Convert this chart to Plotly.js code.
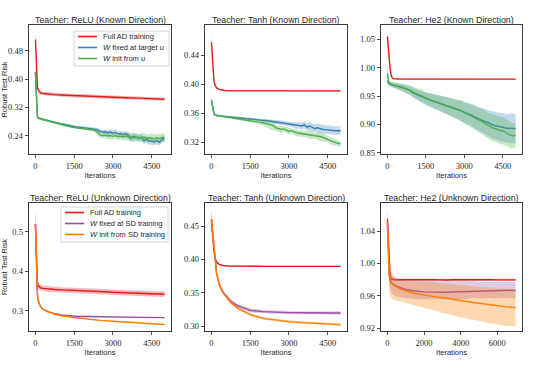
<!DOCTYPE html>
<html><head><meta charset="utf-8">
<script src="https://cdn.plot.ly/plotly-3.0.1.min.js"></script>
<style>html,body{margin:0;padding:0;background:#fff}#chart{width:538px;height:369px}</style>
</head><body><div id="chart"></div>
<script>
// ---------------- DATA ----------------
const panelTitles = ['Teacher: ReLU (Known Direction)','Teacher: Tanh (Known Direction)','Teacher: He2 (Known Direction)',
  'Teacher: ReLU (Unknown Direction)','Teacher: Tanh (Unknown Direction)','Teacher: He2 (Unknown Direction)'];
const legendKnown = ['Full AD training','<i>W</i> fixed at target <i>u</i>','<i>W</i> init from <i>u</i>'];
const legendUnknown = ['Full AD training','<i>W</i> fixed at SD training','<i>W</i> init from SD training'];
const xTicks5000 = [0,1500,3000,4500];
const xTicks7000 = [0,2000,4000,6000];
const yTicks1 = [0.24,0.32,0.40,0.48];
const yTicks2 = [0.32,0.36,0.40,0.44];
const yTicks3 = [0.85,0.90,0.95,1.00,1.05];
const yTicks4 = [0.3,0.4,0.5];
const yTicks5 = [0.30,0.35,0.40,0.45];
const yTicks6 = [0.92,0.96,1.00,1.04];

const xCoarse = [0,25,50,75,100,150,200,300,400,500,750,1000,1500,2000,2500,3000,3500,4000,4500,5000];
const xFine = [0,25,50,75,100,150,200,300,400,500,600,700,800,900,1000,1100,1200,1300,1400,1500,1600,1700,1800,1900,2000,2100,2200,2300,2400,2500,2600,2700,2800,2900,3000,3100,3200,3300,3400,3500,3600,3700,3800,3900,4000,4100,4200,4300,4400,4500,4600,4700,4800,4900,5000];
const xLong = [0,25,50,75,100,150,200,300,400,500,750,1000,1250,1500,1750,2000,2250,2500,2750,3000,3250,3500,3750,4000,4250,4500,4750,5000,5250,5500,5750,6000,6250,6500,6750,7000];

// Panel 1: ReLU known
const p1RedMean = [0.512,0.455,0.400,0.378,0.370,0.364,0.361,0.359,0.358,0.357,0.356,0.355,0.353,0.351,0.350,0.348,0.347,0.346,0.344,0.343];
const p1RedSd = [0.020,0.012,0.008,0.007,0.006,0.006,0.005,0.005,0.005,0.005,0.005,0.005,0.005,0.005,0.005,0.005,0.005,0.005,0.004,0.004];
const p1BlueMean = [0.418,0.360,0.312,0.295,0.291,0.289,0.288,0.286,0.284,0.281,
 0.280,0.278,0.276,0.275,0.273,0.272,0.270,0.268,0.267,0.265,
 0.264,0.264,0.263,0.262,0.262,0.261,0.260,0.259,0.257,0.252,
 0.250,0.251,0.248,0.250,0.247,0.249,0.245,0.246,0.243,0.245,
 0.240,0.232,0.238,0.235,0.233,0.236,0.226,0.230,0.224,0.225,
 0.222,0.226,0.221,0.229,0.231];
const p1BlueSd = [0.010,0.006,0.004,0.003,0.003,0.003,0.003,0.003,0.003,0.003,
 0.003,0.003,0.003,0.003,0.003,0.003,0.003,0.003,0.003,0.003,
 0.003,0.003,0.003,0.003,0.003,0.003,0.004,0.004,0.005,0.006,
 0.006,0.007,0.008,0.007,0.008,0.009,0.007,0.008,0.009,0.008,
 0.010,0.011,0.009,0.010,0.009,0.011,0.010,0.009,0.011,0.010,
 0.009,0.011,0.010,0.009,0.010];
const p1GreenMean = [0.420,0.362,0.312,0.294,0.290,0.288,0.287,0.285,0.283,0.280,
 0.278,0.277,0.275,0.273,0.271,0.269,0.268,0.266,0.264,0.263,
 0.262,0.261,0.260,0.260,0.259,0.258,0.257,0.255,0.250,0.242,
 0.240,0.241,0.239,0.240,0.238,0.240,0.237,0.238,0.236,0.238,
 0.236,0.237,0.234,0.236,0.235,0.233,0.236,0.232,0.234,0.233,
 0.231,0.234,0.232,0.234,0.233];
const p1GreenSd = [0.012,0.006,0.004,0.003,0.003,0.003,0.003,0.003,0.003,0.003,
 0.003,0.003,0.003,0.003,0.003,0.003,0.003,0.003,0.003,0.003,
 0.003,0.003,0.003,0.004,0.004,0.004,0.004,0.005,0.007,0.008,
 0.007,0.009,0.008,0.010,0.009,0.008,0.011,0.009,0.010,0.012,
 0.010,0.011,0.013,0.010,0.012,0.011,0.013,0.012,0.010,0.013,
 0.012,0.011,0.013,0.012,0.011];

// Panel 2: Tanh known
const p2RedMean = [0.458,0.440,0.422,0.411,0.404,0.398,0.395,0.393,0.392,0.3915,0.391,0.391,0.391,0.391,0.391,0.391,0.391,0.391,0.391,0.391];
const p2RedSd = [0.012,0.006,0.003,0.002,0.0015,0.001,0.001,0.001,0.001,0.001,0.001,0.001,0.001,0.001,0.001,0.001,0.001,0.001,0.001,0.001];
const p2BlueMean = [0.378,0.372,0.365,0.361,0.359,0.358,0.357,0.3565,0.356,0.3555,
 0.355,0.3548,0.3545,0.354,0.3537,0.3535,0.3533,0.353,0.3527,0.3525,
 0.352,0.3518,0.3512,0.351,0.3505,0.350,0.3495,0.349,0.3485,0.348,
 0.3475,0.347,0.3465,0.346,0.345,0.3445,0.344,0.343,0.3435,0.3425,
 0.344,0.341,0.3425,0.3405,0.339,0.340,0.3385,0.338,0.3375,0.337,
 0.3368,0.3365,0.336,0.3362,0.336];
const p2BlueSd = [0.004,0.003,0.002,0.0015,0.0015,0.0015,0.0015,0.0015,0.0015,0.0015,
 0.0015,0.0015,0.0015,0.0015,0.0015,0.0015,0.0015,0.0015,0.0015,0.0015,
 0.0015,0.0015,0.0015,0.002,0.002,0.002,0.002,0.002,0.0025,0.0025,
 0.003,0.003,0.003,0.0035,0.0035,0.004,0.004,0.0045,0.0045,0.005,
 0.005,0.005,0.0055,0.0055,0.0055,0.006,0.006,0.006,0.006,0.006,
 0.006,0.006,0.006,0.006,0.006];
const p2GreenMean = [0.379,0.372,0.365,0.361,0.359,0.358,0.357,0.3565,0.356,0.355,
 0.3545,0.354,0.3535,0.353,0.3525,0.352,0.3515,0.351,0.3505,0.350,
 0.3495,0.349,0.348,0.3475,0.347,0.346,0.345,0.344,0.343,0.340,
 0.339,0.338,0.3385,0.337,0.335,0.336,0.334,0.333,0.3325,0.332,
 0.3315,0.331,0.331,0.330,0.329,0.3285,0.328,0.327,0.3255,0.324,
 0.322,0.321,0.3195,0.3188,0.318];
const p2GreenSd = [0.004,0.003,0.002,0.0015,0.0015,0.0015,0.0015,0.0015,0.0015,0.0015,
 0.0015,0.0015,0.0015,0.0015,0.0015,0.0015,0.002,0.002,0.002,0.002,
 0.002,0.0025,0.0025,0.003,0.004,0.006,0.005,0.007,0.006,0.004,
 0.004,0.005,0.004,0.004,0.005,0.004,0.004,0.005,0.004,0.004,
 0.005,0.004,0.006,0.005,0.004,0.005,0.006,0.005,0.005,0.004,
 0.005,0.004,0.004,0.004,0.004];

// Panel 3: He2 known
const p3RedMean = [1.055,1.045,1.030,1.015,1.000,0.986,0.981,0.980,0.9798,0.9798,0.9798,0.9797,0.9798,0.9797,0.9798,0.9797,0.9805,0.9797,0.9798,0.9798];
const p3RedSd = [0.010,0.008,0.006,0.004,0.003,0.002,0.001,0.001,0.001,0.001,0.001,0.001,0.001,0.001,0.001,0.001,0.001,0.001,0.001,0.001];
const p3BlueMean = [0.976,0.974,0.973,0.972,0.971,0.970,0.969,0.968,0.967,0.966,
 0.9645,0.963,0.9615,0.9595,0.9555,0.9535,0.951,0.9495,0.947,0.945,
 0.9435,0.942,0.9405,0.939,0.938,0.9365,0.935,0.933,0.9315,0.930,
 0.928,0.9265,0.925,0.9235,0.921,0.9195,0.918,0.916,0.9135,0.911,
 0.909,0.907,0.905,0.9035,0.901,0.8995,0.898,0.897,0.8955,0.895,
 0.8945,0.893,0.8935,0.8925,0.8925];
const p3BlueSd = [0.012,0.005,0.004,0.004,0.004,0.004,0.005,0.005,0.005,0.006,
 0.006,0.007,0.007,0.008,0.008,0.009,0.009,0.010,0.010,0.011,
 0.011,0.012,0.012,0.013,0.013,0.014,0.014,0.015,0.015,0.016,
 0.016,0.017,0.017,0.018,0.018,0.019,0.019,0.020,0.020,0.021,
 0.021,0.022,0.022,0.023,0.023,0.024,0.024,0.024,0.025,0.025,
 0.025,0.025,0.026,0.026,0.026];
const p3GreenMean = [0.990,0.980,0.975,0.973,0.972,0.971,0.970,0.969,0.967,0.966,
 0.965,0.963,0.962,0.960,0.957,0.955,0.953,0.951,0.949,0.946,
 0.944,0.943,0.941,0.940,0.938,0.937,0.935,0.933,0.932,0.930,
 0.929,0.927,0.926,0.924,0.921,0.919,0.917,0.914,0.912,0.909,
 0.907,0.905,0.902,0.899,0.896,0.894,0.893,0.891,0.889,0.889,
 0.886,0.884,0.881,0.880,0.881];
const p3GreenSd = [0.020,0.008,0.005,0.004,0.004,0.004,0.005,0.005,0.005,0.006,
 0.007,0.007,0.008,0.008,0.009,0.009,0.010,0.011,0.010,0.011,
 0.012,0.012,0.013,0.013,0.014,0.014,0.015,0.015,0.016,0.016,
 0.017,0.017,0.018,0.018,0.019,0.019,0.020,0.020,0.021,0.021,
 0.022,0.022,0.023,0.022,0.023,0.023,0.024,0.023,0.024,0.024,
 0.024,0.023,0.023,0.022,0.022];

// Panel 4: ReLU unknown
const p4RedMean = [0.520,0.450,0.392,0.372,0.364,0.360,0.358,0.357,0.356,0.355,0.354,0.353,0.352,0.350,0.349,0.347,0.346,0.345,0.343,0.342];
const p4RedSd = [0.035,0.020,0.012,0.009,0.008,0.007,0.007,0.007,0.007,0.007,0.007,0.007,0.007,0.007,0.007,0.007,0.007,0.007,0.007,0.007];
const p4PurpleMean = [0.520,0.440,0.370,0.342,0.328,0.316,0.310,0.304,0.300,0.2975,0.2925,0.2895,0.2865,0.2855,0.285,0.2845,0.284,0.2835,0.283,0.2828];
const p4PurpleSd = [0.035,0.020,0.010,0.006,0.004,0.003,0.002,0.002,0.002,0.002,0.002,0.0015,0.0015,0.0015,0.0015,0.0015,0.0015,0.0015,0.0015,0.0015];
const p4OrangeMean = [0.520,0.440,0.370,0.342,0.328,0.316,0.310,0.304,0.300,0.2975,0.292,0.2875,0.2830,0.2790,0.2760,0.2735,0.2712,0.2690,0.2672,0.2655];
const p4OrangeSd = [0.035,0.020,0.010,0.006,0.004,0.003,0.002,0.002,0.002,0.002,0.002,0.0015,0.0015,0.0015,0.0015,0.0015,0.0015,0.0015,0.0015,0.0015];

// Panel 5: Tanh unknown
const p5RedMean = [0.460,0.446,0.432,0.420,0.411,0.401,0.396,0.3925,0.391,0.3903,0.3898,0.3896,0.3895,0.3895,0.3895,0.3895,0.3895,0.3895,0.3895,0.3895];
const p5RedSd = [0.014,0.006,0.003,0.002,0.0015,0.001,0.001,0.001,0.001,0.001,0.001,0.001,0.001,0.001,0.001,0.001,0.001,0.001,0.001,0.001];
const p5PurpleMean = [0.460,0.450,0.436,0.422,0.411,0.392,0.379,0.363,0.354,0.348,0.337,0.3305,0.3235,0.3215,0.3205,0.3200,0.3198,0.3197,0.3196,0.3195];
const p5PurpleSd = [0.014,0.006,0.004,0.003,0.003,0.003,0.003,0.003,0.003,0.003,0.003,0.003,0.003,0.0025,0.0025,0.0025,0.0025,0.0025,0.0025,0.0025];
const p5OrangeMean = [0.460,0.450,0.436,0.422,0.411,0.391,0.378,0.362,0.353,0.347,0.335,0.327,0.317,0.3115,0.3085,0.3065,0.305,0.3037,0.3027,0.302];
const p5OrangeSd = [0.014,0.006,0.004,0.003,0.003,0.0025,0.0025,0.002,0.002,0.002,0.002,0.002,0.002,0.002,0.002,0.002,0.002,0.002,0.002,0.002];

// Panel 6: He2 unknown
const p6RedMean = [1.055,1.042,1.025,1.008,0.996,0.985,0.981,0.980,0.9798,0.9800,
 0.9798,0.9801,0.9797,0.9799,0.9800,0.9797,0.9799,0.9801,0.9798,0.9800,
 0.9797,0.9799,0.9800,0.9797,0.9799,0.9801,0.9798,0.9800,0.9797,0.9799,
 0.9800,0.9798,0.9800,0.9797,0.9799,0.9798];
const p6RedSd = [0.012,0.008,0.006,0.004,0.003,0.002,0.0015,0.0015,0.0015,0.0015,
 0.0015,0.0015,0.0015,0.0015,0.0015,0.0015,0.0015,0.0015,0.0015,0.0015,
 0.0015,0.0015,0.0015,0.0015,0.0015,0.0015,0.0015,0.0015,0.0015,0.0015,
 0.0015,0.0015,0.0015,0.0015,0.0015,0.0015];
const p6PurpleMean = [1.050,1.032,1.012,0.996,0.986,0.980,0.977,0.975,0.973,0.972,
 0.970,0.968,0.967,0.966,0.9655,0.965,0.9648,0.9645,0.9645,0.9645,
 0.9645,0.9648,0.965,0.965,0.9652,0.9655,0.966,0.966,0.9662,0.9665,
 0.9665,0.967,0.967,0.967,0.967,0.9668];
const p6PurpleLo = [1.035,1.015,0.998,0.985,0.975,0.968,0.965,0.962,0.960,0.959,
 0.958,0.957,0.957,0.956,0.956,0.956,0.956,0.956,0.956,0.956,
 0.956,0.956,0.956,0.956,0.956,0.957,0.957,0.957,0.957,0.957,
 0.957,0.957,0.957,0.957,0.957,0.957];
const p6PurpleHi = [1.065,1.048,1.026,1.006,0.996,0.991,0.988,0.985,0.983,0.982,
 0.980,0.979,0.978,0.978,0.978,0.978,0.978,0.978,0.978,0.978,
 0.978,0.978,0.978,0.978,0.978,0.978,0.978,0.977,0.977,0.977,
 0.977,0.977,0.977,0.977,0.977,0.977];
const p6OrangeMean = [1.050,1.030,1.010,0.995,0.985,0.979,0.976,0.974,0.972,0.971,
 0.968,0.966,0.9645,0.963,0.962,0.961,0.960,0.959,0.9585,0.958,
 0.957,0.956,0.955,0.954,0.953,0.9525,0.9515,0.951,0.950,0.9495,
 0.9488,0.948,0.947,0.9465,0.946,0.9455];
const p6OrangeLo = [1.030,1.010,0.990,0.975,0.965,0.960,0.958,0.956,0.955,0.954,
 0.953,0.951,0.950,0.948,0.947,0.945,0.944,0.942,0.941,0.939,
 0.938,0.936,0.935,0.933,0.933,0.931,0.930,0.929,0.928,0.926,
 0.926,0.925,0.924,0.923,0.923,0.922];
const p6OrangeHi = [1.068,1.050,1.030,1.012,1.002,0.995,0.990,0.985,0.982,0.980,
 0.979,0.979,0.978,0.978,0.978,0.977,0.977,0.977,0.976,0.976,
 0.975,0.975,0.974,0.973,0.973,0.972,0.972,0.971,0.971,0.970,
 0.970,0.969,0.969,0.969,0.968,0.968];

// ---------------- DRAWING ----------------
const W = 538, H = 369;
const COL = {red:'#e41a1c', blue:'#377eb8', green:'#4daf4a', purple:'#984ea3', orange:'#ff7f00'};
function rgba(hex, a){const n=parseInt(hex.slice(1),16);return `rgba(${n>>16&255},${n>>8&255},${n&255},${a})`;}
function sfx(i){return i===1?'':String(i);}
const traces = [];
function addSeries(p, x, mean, lo, hi, color, name){
  const xa='x'+sfx(p), ya='y'+sfx(p);
  traces.push({type:'scatter',mode:'lines',x:x.concat(x.slice().reverse()),y:hi.concat(lo.slice().reverse()),
    fill:'toself',fillcolor:rgba(color,0.3),line:{width:0,color:color},hoverinfo:'skip',showlegend:false,xaxis:xa,yaxis:ya});
  traces.push({type:'scatter',mode:'lines',x:x,y:mean,line:{color:color,width:1.4},name:name,showlegend:false,xaxis:xa,yaxis:ya});
}
function addSd(p, x, mean, sd, color, name){
  addSeries(p, x, mean, mean.map((m,i)=>m-sd[i]), mean.map((m,i)=>m+sd[i]), color, name);
}
addSd(1, xCoarse, p1RedMean, p1RedSd, COL.red, legendKnown[0]);
addSd(1, xFine, p1BlueMean, p1BlueSd, COL.blue, legendKnown[1]);
addSd(1, xFine, p1GreenMean, p1GreenSd, COL.green, legendKnown[2]);
addSd(2, xCoarse, p2RedMean, p2RedSd, COL.red, legendKnown[0]);
addSd(2, xFine, p2BlueMean, p2BlueSd, COL.blue, legendKnown[1]);
addSd(2, xFine, p2GreenMean, p2GreenSd, COL.green, legendKnown[2]);
addSd(3, xCoarse, p3RedMean, p3RedSd, COL.red, legendKnown[0]);
addSd(3, xFine, p3BlueMean, p3BlueSd, COL.blue, legendKnown[1]);
addSd(3, xFine, p3GreenMean, p3GreenSd, COL.green, legendKnown[2]);
addSd(4, xCoarse, p4RedMean, p4RedSd, COL.red, legendUnknown[0]);
addSd(4, xCoarse, p4PurpleMean, p4PurpleSd, COL.purple, legendUnknown[1]);
addSd(4, xCoarse, p4OrangeMean, p4OrangeSd, COL.orange, legendUnknown[2]);
addSd(5, xCoarse, p5RedMean, p5RedSd, COL.red, legendUnknown[0]);
addSd(5, xCoarse, p5PurpleMean, p5PurpleSd, COL.purple, legendUnknown[1]);
addSd(5, xCoarse, p5OrangeMean, p5OrangeSd, COL.orange, legendUnknown[2]);
addSd(6, xLong, p6RedMean, p6RedSd, COL.red, legendUnknown[0]);
addSeries(6, xLong, p6PurpleMean, p6PurpleLo, p6PurpleHi, COL.purple, legendUnknown[1]);
addSeries(6, xLong, p6OrangeMean, p6OrangeLo, p6OrangeHi, COL.orange, legendUnknown[2]);

// layout geometry (pixels)
const colX = [[29,171],[205,347],[381,522]];
const rowY = [[25,154],[203,331]];
const px = v => v/W, py = v => 1 - v/H;
const yRanges = [[0.188,0.553],[0.3039,0.4818],[0.848,1.075],[0.249,0.573],[0.2925,0.4845],[0.9167,1.0746]];
const yTickSets = [yTicks1,yTicks2,yTicks3,yTicks4,yTicks5,yTicks6];
const yFormats = ['.2f','.2f','.2f','.1f','.2f','.2f'];
const ink = '#262626';
const serif = 'Liberation Serif, DejaVu Serif, serif';
const sans = 'Liberation Sans, DejaVu Sans, sans-serif';
const axCommon = {showline:true,mirror:true,linecolor:ink,linewidth:0.9,ticks:'outside',ticklen:3.5,tickwidth:0.8,tickcolor:ink,
  showgrid:false,zeroline:false,tickfont:{family:serif,size:8.5,color:ink},fixedrange:true};

const layout = {width:W,height:H,margin:{l:0,r:0,t:0,b:0},paper_bgcolor:'#fff',plot_bgcolor:'#fff',showlegend:false,
  annotations:[],shapes:[]};
for(let p=1;p<=6;p++){
  const c=(p-1)%3, r=Math.floor((p-1)/3), s=sfx(p);
  const xr = p===6?[-350,7350]:[-250,5250];
  layout['xaxis'+s] = Object.assign({},axCommon,{domain:[px(colX[c][0]),px(colX[c][1])],range:xr,anchor:'y'+s,
    tickmode:'array',tickvals:p===6?xTicks7000:xTicks5000,tickformat:'d',
    title:{text:'Iterations',font:{family:sans,size:7.5,color:ink},standoff:3}});
  layout['yaxis'+s] = Object.assign({},axCommon,{domain:[py(rowY[r][1]),py(rowY[r][0])],range:yRanges[p-1],anchor:'x'+s,
    tickmode:'array',tickvals:yTickSets[p-1],tickformat:yFormats[p-1],
    title:c===0?{text:'Robust Test Risk',font:{family:sans,size:7.5,color:ink},standoff:4}:{text:''}});
  layout.annotations.push({xref:'paper',yref:'paper',x:px((colX[c][0]+colX[c][1])/2),y:py(rowY[r][0]-5.5),
    xanchor:'center',yanchor:'middle',showarrow:false,text:panelTitles[p-1],font:{family:sans,size:8.8,color:ink}});
}

// hand-drawn legends (compact, like the reference)
function drawLegend(box, names, colors){
  layout.shapes.push({type:'rect',xref:'paper',yref:'paper',x0:px(box.x0),x1:px(box.x1),y0:py(box.y0),y1:py(box.y1),
    fillcolor:'rgba(255,255,255,0.8)',line:{color:'#cccccc',width:0.8},layer:'above'});
  names.forEach((n,i)=>{
    const yy = box.y0 + 5.5 + i*11;
    layout.shapes.push({type:'line',xref:'paper',yref:'paper',x0:px(box.x0+4),x1:px(box.x0+23),y0:py(yy),y1:py(yy),
      line:{color:colors[i],width:1.6},layer:'above'});
    layout.annotations.push({xref:'paper',yref:'paper',x:px(box.x0+27),y:py(yy),xanchor:'left',yanchor:'middle',showarrow:false,
      text:n,font:{family:sans,size:7.5,color:ink}});
  });
}
drawLegend({x0:74,x1:169,y0:31,y1:66}, legendKnown, [COL.red,COL.blue,COL.green]);
drawLegend({x0:61,x1:168,y0:207,y1:242}, legendUnknown, [COL.red,COL.purple,COL.orange]);

Plotly.newPlot('chart', traces, layout, {staticPlot:true,displayModeBar:false});
</script></body></html>
